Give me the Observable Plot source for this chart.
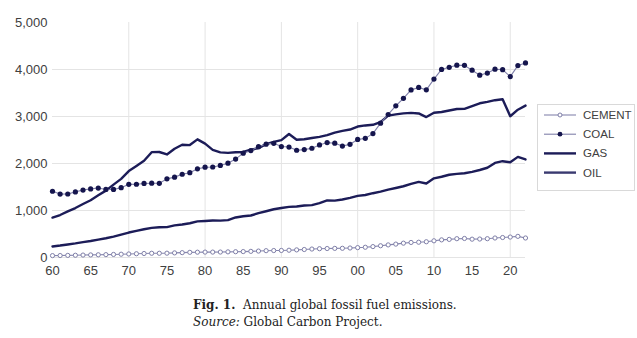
<!DOCTYPE html>
<html>
<head>
<meta charset="utf-8">
<script src="https://cdn.jsdelivr.net/npm/d3@7"></script>
<script src="https://cdn.jsdelivr.net/npm/@observablehq/plot@0.6"></script>
<style>
  html, body { margin: 0; padding: 0; background: #fff; }
  #wrap { position: relative; width: 637px; height: 338px; overflow: hidden; }
  #chart { position: absolute; left: 0; top: 0; }
  #legend { position: absolute; left: 537px; top: 104px; width: 96px; height: 85px; border: 1px solid #d9d9d9; background: #fff; }
  #caption { position: absolute; left: 193px; top: 297px; font-family: "DejaVu Serif", serif; font-size: 12px; line-height: 17px; color: #222; }
</style>
</head>
<body>
<div id="wrap">
  <div id="chart"></div>
  <div id="legend"></div>
  <div id="caption"><b>Fig. 1.</b>&nbsp; Annual global fossil fuel emissions.<br><i>Source:</i> Global Carbon Project.</div>
</div>
<script>
const years = d3.range(1960, 2023);
const coal = [1410,1349,1351,1396,1435,1460,1478,1448,1448,1486,
  1556,1559,1576,1581,1579,1673,1710,1771,1804,1886,
  1921,1925,1958,2006,2094,2220,2274,2358,2412,2429,
  2361,2350,2282,2296,2324,2395,2445,2432,2370,2409,
  2512,2535,2636,2859,3043,3228,3387,3566,3618,3567,
  3796,4001,4046,4091,4088,3985,3880,3925,4006,3997,
  3849,4083,4140];
const oil = [849,904,980,1052,1137,1219,1323,1423,1551,1673,
  1839,1947,2057,2241,2245,2192,2314,2398,2392,2514,
  2422,2289,2236,2226,2239,2246,2293,2326,2412,2459,
  2497,2627,2506,2517,2542,2566,2604,2658,2694,2723,
  2786,2810,2823,2880,3018,3046,3067,3077,3065,2988,
  3080,3096,3128,3159,3163,3223,3281,3310,3347,3366,
  3006,3145,3232];
const gas = [235,254,277,300,328,351,380,410,445,487,
  531,567,600,630,643,647,684,701,728,768,
  777,786,784,795,852,878,894,944,984,1026,
  1053,1077,1086,1105,1114,1157,1215,1211,1235,1269,
  1311,1330,1368,1402,1445,1479,1516,1568,1610,1575,
  1685,1718,1760,1779,1792,1822,1862,1909,2013,2049,
  2027,2141,2086];
const cement = [40,42,45,48,52,55,58,61,65,70,
  75,80,85,90,90,92,98,103,110,113,
  115,115,116,120,123,126,131,137,145,148,
  150,155,162,170,180,187,191,194,196,202,
  210,218,232,250,268,285,305,320,325,335,
  355,375,385,400,405,390,393,400,415,425,
  435,450,415];
const yTicks = [0,1000,2000,3000,4000,5000];
const xTicks = d3.range(1960, 2021, 5);
const xGrid = d3.range(1970, 2021, 10);
const seriesNames = ["CEMENT","COAL","GAS","OIL"];

const rows = (vals) => years.map((y, i) => ({year: y, value: vals[i]}));
const navy = "#1c1c58";

const plot = Plot.plot({
  width: 637,
  height: 292,
  marginLeft: 52,
  marginRight: 112,
  marginTop: 22,
  marginBottom: 35,
  style: {fontFamily: "'Liberation Sans', Arial, sans-serif", fontSize: "13px", color: "#404040", background: "#fff"},
  x: {domain: [1960, 2022], label: null, ticks: xTicks, tickSize: 0, tickPadding: 8,
      tickFormat: d => String(d % 100).padStart(2, "0")},
  y: {domain: [0, 5000], label: null, ticks: yTicks, tickSize: 0, tickPadding: 5,
      tickFormat: d3.format(",")},
  marks: [
    Plot.gridY([0,1000,2000,3000,4000], {stroke: "#e4e4e4", strokeOpacity: 1, strokeWidth: 1}),
    Plot.gridX(xGrid, {stroke: "#e4e4e4", strokeOpacity: 1, strokeWidth: 1}),
    Plot.line(rows(gas), {x: "year", y: "value", stroke: navy, strokeWidth: 2.4}),
    Plot.line(rows(oil), {x: "year", y: "value", stroke: navy, strokeWidth: 2.4}),
    Plot.line(rows(coal), {x: "year", y: "value", stroke: "#8080aa", strokeWidth: 1.1}),
    Plot.dot(rows(coal), {x: "year", y: "value", r: 2.6, fill: "#15154d", stroke: "none"}),
    Plot.line(rows(cement), {x: "year", y: "value", stroke: "#8686ae", strokeWidth: 1.1}),
    Plot.dot(rows(cement), {x: "year", y: "value", r: 2.1, fill: "#fff", stroke: "#7f7fa8", strokeWidth: 1})
  ]
});
document.getElementById("chart").appendChild(plot);

// legend
const lg = d3.select("#legend").append("svg").attr("width", 96).attr("height", 85)
  .style("font-family", "'Liberation Sans', Arial, sans-serif").style("font-size", "11.5px");
const styles = {
  CEMENT: {stroke: "#8686ae", w: 1.1, dot: {r: 2, fill: "#fff", stroke: "#7f7fa8"}},
  COAL: {stroke: "#8080aa", w: 1.1, dot: {r: 2.4, fill: "#15154d", stroke: "none"}},
  GAS: {stroke: navy, w: 2.4, dot: null},
  OIL: {stroke: "#3a3a70", w: 2.4, dot: null}
};
seriesNames.forEach((n, i) => {
  const yy = 10 + i * 19.2;
  const s = styles[n];
  lg.append("line").attr("x1", 6).attr("x2", 38).attr("y1", yy).attr("y2", yy)
    .attr("stroke", s.stroke).attr("stroke-width", s.w);
  if (s.dot) lg.append("circle").attr("cx", 22).attr("cy", yy).attr("r", s.dot.r)
    .attr("fill", s.dot.fill).attr("stroke", s.dot.stroke);
  lg.append("text").attr("x", 45).attr("y", yy).attr("dy", "0.35em").attr("fill", "#404040").text(n);
});
</script>
</body>
</html>
